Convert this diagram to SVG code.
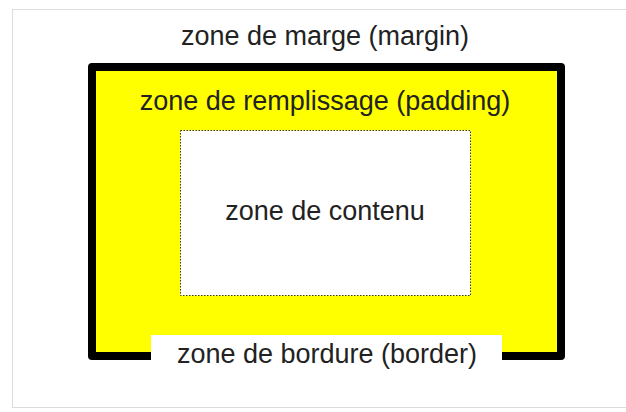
<svg xmlns="http://www.w3.org/2000/svg" width="626" height="412" viewBox="0 0 626 412">
  <style>
    .lbl { font-family: "Liberation Sans", Arial, sans-serif; font-size: 27px; fill: #222; text-anchor: middle; }
  </style>
  <rect width="626" height="412" fill="#ffffff"/>
  <g id="margin">
    <rect x="12.5" y="9.5" width="640" height="398" fill="none" stroke="#b8b8b8" stroke-width="1" stroke-dasharray="1 1"/>
    <text class="lbl" x="325" y="45">zone de marge (margin)</text>
  </g>
  <g id="border">
    <rect x="92" y="67" width="469" height="289" fill="#ffff00" stroke="#000" stroke-width="8" stroke-linejoin="round"/>
    <rect x="151" y="335" width="351" height="40" fill="#ffffff"/>
    <text class="lbl" x="327" y="363">zone de bordure (border)</text>
  </g>
  <g id="padding">
    <text class="lbl" x="325" y="110">zone de remplissage (padding)</text>
  </g>
  <g id="content">
    <rect x="180.5" y="130.5" width="290" height="165" fill="#ffffff" stroke="#333" stroke-width="1" stroke-dasharray="1.5 1.5"/>
    <text class="lbl" x="325" y="220">zone de contenu</text>
  </g>
  <g id="connectors"/>
</svg>
